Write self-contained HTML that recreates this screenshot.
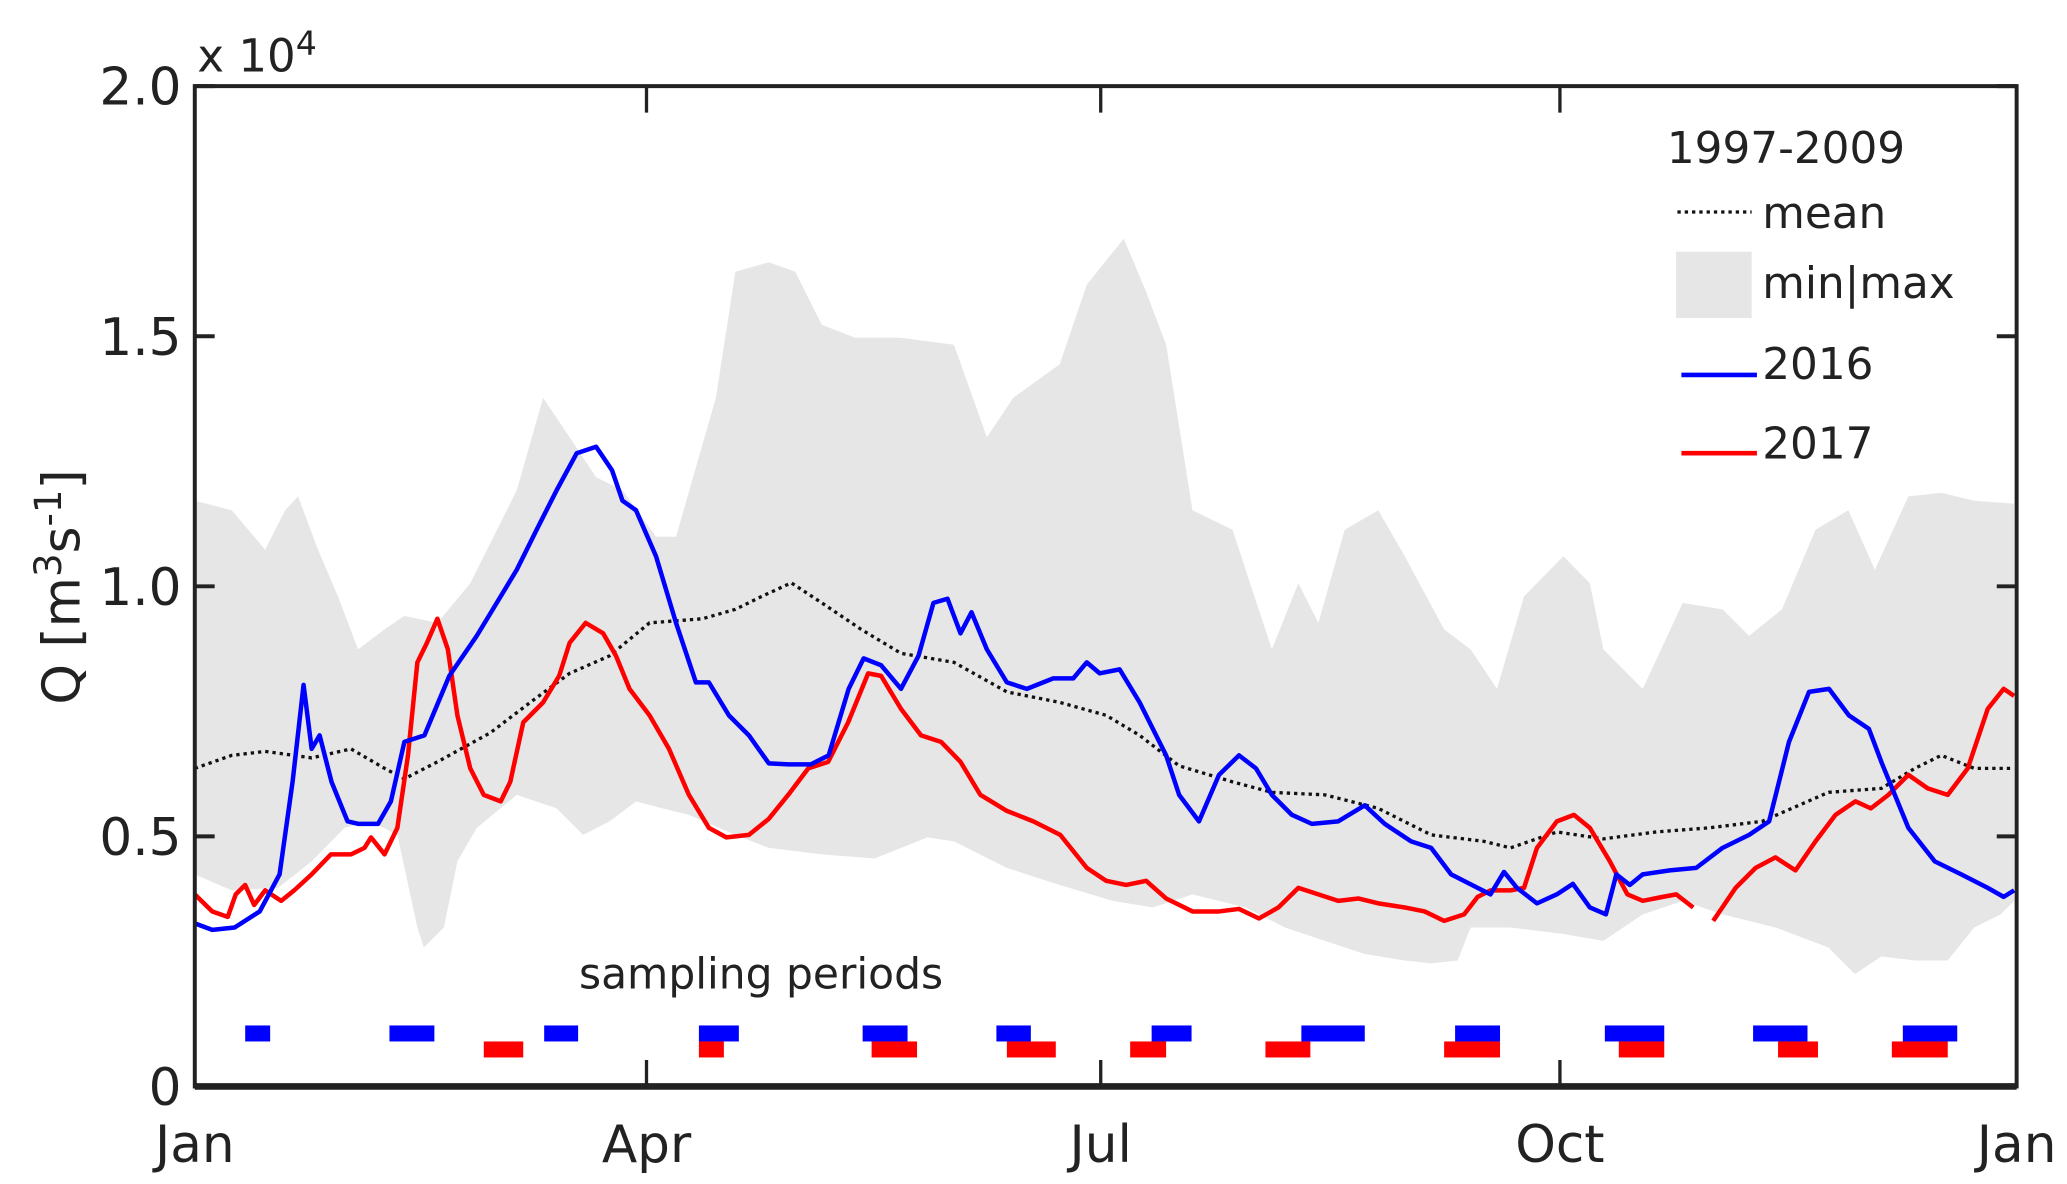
<!DOCTYPE html>
<html><head><meta charset="utf-8"><style>
html,body{margin:0;padding:0;background:#fff}
svg{display:block}
text{font-family:"DejaVu Sans","Liberation Sans",sans-serif;fill:#222}
</style></head><body>
<svg id="chart" width="2067" height="1184" viewBox="0 0 1560 893.6" xmlns="http://www.w3.org/2000/svg">
<g id="plot"></g>
<g id="axes"></g>
<g id="legend"></g>
</svg>
<script>
// ---- data (day of year, discharge in 10^4 m3/s) ----
const blueDays=[0,3.5,8,13,17,19.6,21.8,23.4,25,27.4,30.6,32.7,36.7,39.3,42,46,51,56.5,60.5,64.5,68.5,72.5,76.5,80.4,83.6,85.7,88.4,92.4,96.4,100.4,103,107,111,115,119,123.4,127,131,134,137.5,141.5,145,148,150.8,153.4,155.6,158.7,162.7,166.7,172,176,178.7,181.3,185.3,189.3,194.6,197.2,201.2,205.2,209.2,212.6,215.8,219.8,223.8,229.1,234.4,238.4,243.7,247.7,251.7,257,259.6,262.3,264.9,268.9,272.9,276.1,279.5,282.7,284.8,287.5,290.1,295.5,300.8,306.1,311.4,315.4,319.4,323.4,327.4,331.4,335.4,338,343.3,348.6,353.9,359.2,362.4,364.5];
const blueVals=[.326,.313,.318,.35,.424,.609,.803,.675,.702,.609,.53,.525,.525,.57,.689,.702,.821,.901,.967,1.033,1.113,1.192,1.266,1.279,1.232,1.171,1.152,1.06,.927,.808,.808,.742,.702,.646,.644,.644,.662,.795,.856,.842,.795,.861,.967,.975,.906,.948,.874,.808,.795,.816,.816,.848,.826,.834,.768,.662,.583,.53,.623,.662,.636,.583,.543,.525,.53,.562,.525,.49,.477,.424,.397,.384,.429,.397,.366,.384,.405,.358,.344,.424,.403,.424,.432,.437,.477,.503,.53,.689,.789,.795,.742,.715,.646,.517,.45,.424,.397,.379,.392];
const redDays=[0,3.5,6.6,8.2,10.1,11.9,14.1,17.3,19.9,23.4,27.3,31.3,34,35.3,38,40.6,42.7,44.6,46.5,48.6,50.7,52.6,55.2,57.9,61.3,63.2,65.8,69.8,73,75.1,78.3,81.8,84.4,87.1,91.1,95,99,103,106.5,111,115,118.9,122.9,126.9,130.9,134.9,137.5,141.5,145.5,149.5,153.4,157.4,162.7,168,173.4,178.7,182.6,186.6,190.6,194.6,199.9,205.2,209.2,213.2,217.1,221.1,225.1,229.1,233.1,237.1,242.4,246.4,250.3,254.3,257,259.6,263.6,266.3,268.9,272.9,276.3,279.5,283.5,287,290.1,294.1,296.8,300.2,null,304.2,308.7,312.7,316.7,320.7,324.7,328.7,332.7,335.8,339.3,343.3,347.2,351.2,355.2,359.2,362.4,364.5];
const redVals=[.384,.35,.339,.384,.403,.363,.392,.371,.392,.424,.464,.464,.477,.498,.464,.517,.662,.848,.887,.935,.874,.742,.636,.583,.57,.609,.728,.768,.821,.887,.927,.906,.861,.795,.742,.675,.583,.517,.498,.503,.535,.583,.636,.649,.728,.826,.821,.755,.702,.689,.649,.583,.551,.53,.503,.437,.411,.403,.411,.376,.35,.35,.355,.336,.358,.397,.384,.371,.376,.366,.358,.35,.331,.344,.379,.392,.392,.397,.477,.53,.543,.517,.45,.384,.371,.379,.384,.358,null,.331,.397,.437,.458,.432,.49,.543,.57,.556,.583,.623,.596,.583,.636,.755,.795,.781];
const meanDays=[0,7.4,14.1,23.4,31.3,38,42,48.6,59.2,67.2,75.1,83.1,91.1,101.7,108.3,113.6,119.5,125.6,133.5,141.5,152.1,162.7,173.3,182.6,189.3,197.2,207.9,215.8,226.4,237.1,247.7,258.3,263.6,272.9,282.2,292.8,303.4,314,327.3,337.9,344.6,349.9,356.5,364.5];
const meanVals=[.636,.662,.67,.657,.675,.636,.615,.649,.707,.768,.826,.861,.927,.935,.954,.98,1.007,.967,.914,.866,.848,.789,.768,.742,.702,.641,.609,.588,.583,.556,.503,.49,.477,.509,.495,.509,.517,.53,.588,.596,.636,.662,.636,.636];
const maxDays=[0,7.4,14.1,18.1,20.7,24.7,28.7,32.7,38,42,48.6,55.2,64.5,69.8,75.1,80.4,85.7,92.4,96.4,104.4,108.3,115,120.3,125.6,132.3,141.5,152.1,158.7,164,173.3,178.7,186.1,190.6,194.6,199.9,207.9,215.8,221.1,225.1,230.4,237.1,242.4,250.3,255.6,260.9,266.3,274.2,279.5,282.2,290.1,298.1,306.1,311.4,318,324.7,331.3,336.6,343.3,349.9,356.5,364.5];
const maxVals=[1.171,1.152,1.073,1.152,1.18,1.073,.98,.874,.914,.941,.927,1.006,1.192,1.377,1.298,1.218,1.192,1.099,1.099,1.377,1.629,1.648,1.629,1.523,1.497,1.497,1.483,1.298,1.377,1.444,1.603,1.695,1.589,1.483,1.152,1.113,.874,1.006,.927,1.113,1.152,1.06,.914,.874,.795,.98,1.06,1.006,.874,.795,.967,.954,.901,.954,1.113,1.152,1.033,1.18,1.187,1.171,1.165];
const minDays=[0,7.4,16.7,23.4,30,35.3,40.6,44.6,45.9,49.9,52.6,56.5,64.5,72.5,77.8,83.1,88.4,93.7,99,108.3,115,125.6,136.2,146.8,152.1,162.7,173.3,183.9,191.9,199.9,210.5,218.4,226.4,234.4,242.4,247.7,253,255.6,263.6,274.2,282.2,290.1,298.1,306.1,316.7,327.3,332.6,337.9,344.6,351.2,356.5,361.8,364.5];
const minVals=[.424,.392,.397,.45,.517,.53,.503,.318,.278,.318,.45,.517,.583,.556,.503,.53,.57,.556,.543,.503,.477,.464,.456,.498,.49,.437,.403,.371,.358,.384,.358,.318,.291,.265,.252,.246,.252,.318,.318,.305,.291,.344,.371,.344,.318,.278,.225,.26,.252,.252,.318,.344,.371];
const sample2016Start=[10.1,39,70,101,133.8,160.6,191.7,221.7,252.5,282.5,312.2,342.2];
const sample2016End=[15.1,48,76.8,109,142.8,167.5,199.7,234.4,261.5,294.4,323.1,353.1];
const sample2017Start=[57.9,101,135.6,162.7,187.4,214.5,250.3,285.3,317.2,340];
const sample2017End=[65.8,106,144.7,172.5,194.6,223.5,261.5,294.4,325.2,351.2];
const yTicks=[0,0.5,1.0,1.5,2.0];
const yTickLabels=["0","0.5","1.0","1.5","2.0"];
const xTicks=[0,90.5,181.5,273.5,365];
const xTickLabels=["Jan","Apr","Jul","Oct","Jan"];

const L=147,R=1522,T=65,B=820;
const X=d=>L+d*(R-L)/365;
const Y=v=>B-v*(B-T)/2.0;
const NS="http://www.w3.org/2000/svg";
function mk(tag,attrs,parent){const e=document.createElementNS(NS,tag);for(const k in attrs)e.setAttribute(k,attrs[k]);parent.appendChild(e);return e;}
const plot=document.getElementById('plot'),axes=document.getElementById('axes'),leg=document.getElementById('legend');

let bp="";
maxDays.forEach((d,i)=>{bp+=(i?"L":"M")+X(d).toFixed(1)+","+Y(maxVals[i]).toFixed(1);});
for(let i=minDays.length-1;i>=0;i--)bp+="L"+X(minDays[i]).toFixed(1)+","+Y(minVals[i]).toFixed(1);
const band=mk('path',{d:bp+"Z",fill:"#e6e6e6"},plot);



function linePath(ds,vs){let p="",pen=false;ds.forEach((d,i)=>{if(d===null||vs[i]===null){pen=false;return;}p+=(pen?"L":"M")+X(d).toFixed(1)+","+Y(vs[i]).toFixed(1);pen=true;});return p;}
const meanLine=mk('path',{d:linePath(meanDays,meanVals),fill:"none",stroke:"#111","stroke-width":2.5,"stroke-dasharray":"2.5 3"},plot);


const redLine=mk('path',{d:linePath(redDays,redVals),fill:"none",stroke:"#ff0000","stroke-width":3.4,"stroke-linejoin":"round"},plot);


const blueLine=mk('path',{d:linePath(blueDays,blueVals),fill:"none",stroke:"#0000ff","stroke-width":3.4,"stroke-linejoin":"round"},plot);



sample2016Start.forEach((s,i)=>{const r=mk('rect',{x:X(s),y:Y(0.122),width:X(sample2016End[i])-X(s),height:Y(0.09)-Y(0.122),fill:"#0000ff"},plot);

});
sample2017Start.forEach((s,i)=>{const r=mk('rect',{x:X(s),y:Y(0.09),width:X(sample2017End[i])-X(s),height:Y(0.058)-Y(0.09),fill:"#ff0000"},plot);

});
const sp=mk('text',{x:437,y:746,"font-size":32},plot);sp.textContent="sampling periods";



mk('rect',{x:L,y:T,width:R-L,height:B-T,fill:"none",stroke:"#222","stroke-width":3},axes);
mk('line',{x1:L,y1:B,x2:R,y2:B,stroke:"#222","stroke-width":5},axes);
yTicks.forEach((v,i)=>{
  mk('line',{x1:L,y1:Y(v),x2:L+15,y2:Y(v),stroke:"#222","stroke-width":3},axes);
  mk('line',{x1:R,y1:Y(v),x2:R-15,y2:Y(v),stroke:"#222","stroke-width":3},axes);
  const t=mk('text',{x:137,y:Y(v)+14,"font-size":39,"text-anchor":"end"},axes);t.textContent=yTickLabels[i];
  
  
});
xTicks.forEach((d,i)=>{
  if(i>0&&i<xTicks.length-1){
    mk('line',{x1:X(d),y1:B,x2:X(d),y2:B-20,stroke:"#222","stroke-width":2.5},axes);
    mk('line',{x1:X(d),y1:T,x2:X(d),y2:T+20,stroke:"#222","stroke-width":2.5},axes);
  }
  const t=mk('text',{x:X(d),y:877,"font-size":39,"text-anchor":"middle"},axes);t.textContent=xTickLabels[i];
  
  
});
const ex=mk('text',{x:149,y:54,"font-size":34},axes);ex.innerHTML='x 10<tspan dy="-13" font-size="25">4</tspan>';


const yl=mk('text',{x:0,y:0,"font-size":39,"text-anchor":"middle",transform:"translate(60,443) rotate(-90)"},axes);
yl.innerHTML='Q [m<tspan dy="-14" font-size="28">3</tspan><tspan dy="14">s</tspan><tspan dy="-14" font-size="28">-1</tspan><tspan dy="14">]</tspan>';



function lt(x,y,s,name){const t=mk('text',{x:x,y:y,"font-size":33},leg);t.textContent=s;return t;}
lt(1258,123,"1997-2009","legend-title");
mk('line',{x1:1266,y1:160,x2:1322,y2:160,stroke:"#111","stroke-width":2.5,"stroke-dasharray":"2.5 3"},leg);
lt(1330,172,"mean","legend-mean");
mk('rect',{x:1265,y:190,width:57,height:50,fill:"#e6e6e6"},leg);
lt(1330,225,"min|max","legend-min-max");
mk('line',{x1:1269,y1:283,x2:1326,y2:283,stroke:"#0000ff","stroke-width":3.5},leg);
lt(1330,286,"2016","legend-2016");
mk('line',{x1:1269,y1:342,x2:1326,y2:342,stroke:"#ff0000","stroke-width":3.5},leg);
lt(1330,346,"2017","legend-2017");
</script>
</body></html>
